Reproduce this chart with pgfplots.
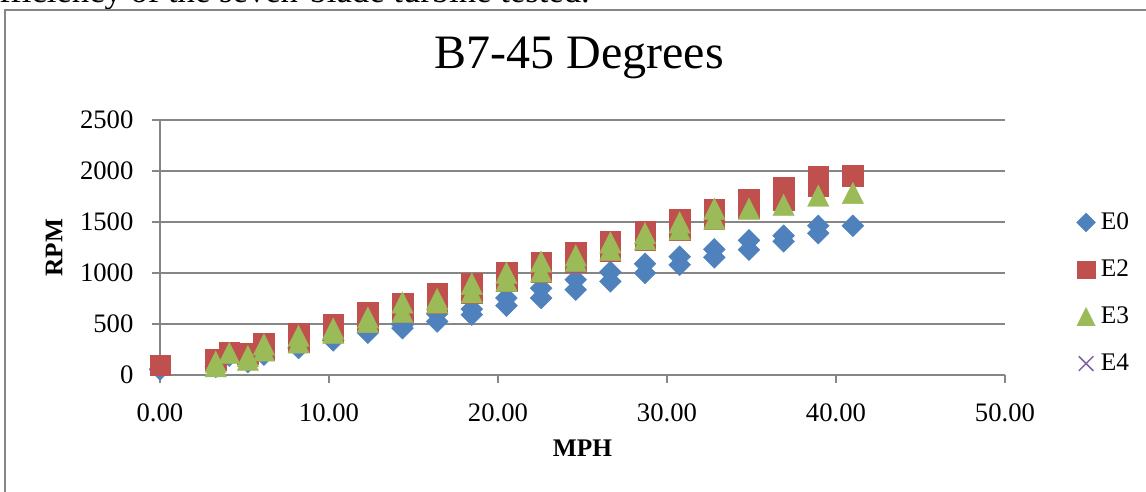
\documentclass[border=0pt]{standalone}
\usepackage{pgfplots}
\pgfplotsset{compat=1.18}
\usepackage{fontspec}
\setmainfont{Liberation Serif}
\definecolor{eBlue}{HTML}{4F81BD}
\definecolor{eRed}{HTML}{C0504D}
\definecolor{eGreen}{HTML}{9BBB59}
\definecolor{ePurple}{HTML}{8064A2}
\definecolor{eGrid}{HTML}{868686}
\pgfdeclareplotmark{xtri}{%
  \pgfpathmoveto{\pgfqpoint{0pt}{\pgfplotmarksize}}%
  \pgfpathlineto{\pgfqpoint{\pgfplotmarksize}{-\pgfplotmarksize}}%
  \pgfpathlineto{\pgfqpoint{-\pgfplotmarksize}{-\pgfplotmarksize}}%
  \pgfpathclose
  \pgfusepathqfillstroke}
\pgfplotstableread{
x y
0 55
3.3 80
4.1 190
5.2 127
6.15 200
8.2 265
10.25 340
12.3 415
14.35 460
14.35 490
16.4 525
16.4 600
18.45 591
18.45 646
20.5 680
20.5 755
22.55 755
22.55 850
24.6 836
24.6 934
26.65 918
26.65 1010
28.7 1000
28.7 1091
30.75 1080
30.75 1160
32.8 1154
32.8 1232
34.85 1228
34.85 1320
36.9 1310
36.9 1365
38.95 1390
38.95 1463
41.0 1463
}\dataEzero
\pgfplotstableread{
x y
0 98
3.3 152
4.1 225
5.2 210
6.15 310
6.15 250
8.2 409
8.2 327
10.25 496
10.25 421
12.3 611
12.3 516
14.35 699
14.35 615
16.4 801
16.4 710
18.45 901
18.45 803
20.5 1007
20.5 918
22.55 1104
22.55 1009
24.6 1202
24.6 1107
26.65 1310
26.65 1219
28.7 1410
28.7 1320
30.75 1527
30.75 1422
32.8 1627
32.8 1527
34.85 1725
34.85 1634
36.9 1840
36.9 1719
38.95 1947
38.95 1849
41.0 1953
}\dataEtwo
\pgfplotstableread{
x y
3.3 130
3.3 85
4.1 215
5.2 185
5.2 150
6.15 300
6.15 240
8.2 384
8.2 318
10.25 455
10.25 415
12.3 564
12.3 520
14.35 711
14.35 617
16.4 745
16.4 710
18.45 895
18.45 810
20.5 1003
20.5 925
22.55 1112
22.55 1015
24.6 1172
24.6 1120
26.65 1300
26.65 1228
28.7 1390
28.7 1330
30.75 1495
30.75 1428
32.8 1630
32.8 1532
34.85 1630
36.9 1668
38.95 1757
41.0 1785
}\dataEthree
\begin{document}
\begin{tikzpicture}
\begin{scope}[x=0.75pt,y=0.75pt,shift={(-160,-117)}]
\useasboundingbox (0,0) rectangle (1146,492);
\clip (0,0) rectangle (1146,492);
\fill[white] (0,0) rectangle (1146,492);
\node[anchor=base east, inner sep=0pt, font=\fontsize{26}{31}\selectfont] at (590,489) {efficiency of the seven-blade turbine tested.};
\draw[eGrid, line width=1.5pt] (5,-20) -- (5,482.2) -- (1160,482.2);
\end{scope}
\begin{axis}[
  scale only axis, width=633.75pt, height=191.25pt,
  xmin=0, xmax=50, ymin=0, ymax=2500,
  axis x line*=bottom, axis y line*=left,
  axis line style={eGrid, line width=1.1pt},
  xtick={0,10,...,50}, ytick={0,500,...,2500},
  tick align=outside, major tick length=6pt,
  tick style={eGrid, line width=1.1pt},
  ymajorgrids, grid style={eGrid, line width=1.1pt},
  clip=false,
  /pgf/number format/assume math mode=true,
  tick label style={font=\fontsize{20}{24}\selectfont, inner sep=0pt},
  xticklabel style={anchor=north, yshift=-15.25pt, /pgf/number format/.cd, fixed, fixed zerofill, precision=2},
  yticklabel style={anchor=east, xshift=-13.75pt, /pgf/number format/.cd, 1000 sep={}},
  title={B7-45 Degrees},
  title style={at={(axis description cs:0.496,1.1725)}, anchor=base, font=\fontsize{36}{42}\selectfont, inner sep=0pt},
  xlabel={MPH},
  every axis x label/.style={at={(axis description cs:0.5,-0.2863)}, anchor=center, font=\bfseries\fontsize{19}{22}\selectfont, inner sep=0pt},
  ylabel={RPM},
  every axis y label/.style={at={(axis description cs:-0.1254,0.5)}, rotate=90, anchor=center, font=\bfseries\fontsize{19}{22}\selectfont, inner sep=0pt},
  legend style={at={(axis description cs:1.0845,0.3216)}, anchor=west, draw=none, fill=none,
    font=\fontsize{19}{22}\selectfont, row sep=17.2pt, inner sep=0pt, column sep=2pt},
  legend cell align=left,
  legend image code/.code={\draw[#1, every mark/.append style={scale=0.86}] plot coordinates {(0pt,0pt)};},
]
\addplot[only marks, color=eBlue, mark=square*, mark size=5.8pt, mark options={rotate=45, fill=eBlue, draw=eBlue, line width=0.3pt}] table[x=x,y=y] {\dataEzero};
\addlegendentry{E0}
\addplot[only marks, color=eRed, mark=square*, mark size=7.7pt, mark options={fill=eRed, draw=eRed, line width=0.3pt}] table[x=x,y=y] {\dataEtwo};
\addlegendentry{E2}
\addplot[only marks, color=eGreen, mark=xtri, mark size=8.0pt, mark options={fill=eGreen, draw=eGreen, line width=0.3pt}] table[x=x,y=y] {\dataEthree};
\addlegendentry{E3}
\addlegendimage{only marks, color=ePurple, mark=x, mark size=9pt, mark options={draw=ePurple, line width=1.1pt}}
\addlegendentry{E4}
\end{axis}
\end{tikzpicture}
\end{document}
